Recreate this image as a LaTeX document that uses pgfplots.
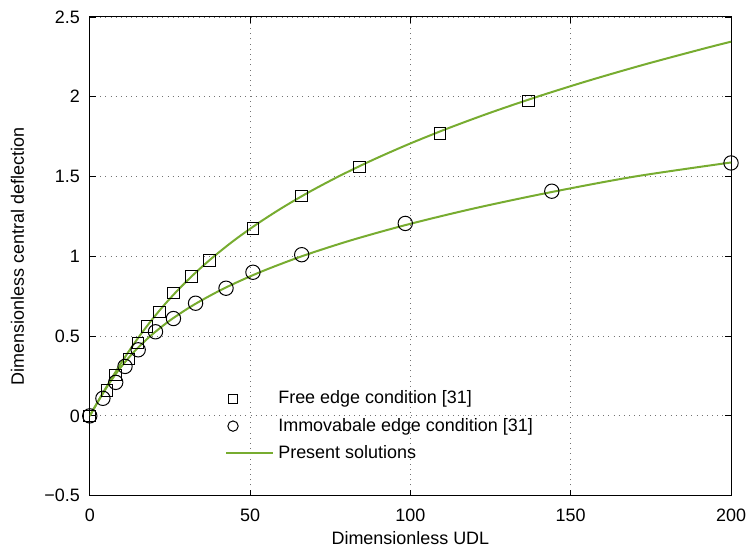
\documentclass[border=0pt]{standalone}
\usepackage{fontspec}
\setmainfont{Liberation Sans}
\usepackage{pgfplots}
\pgfplotsset{compat=1.18}
\definecolor{mgreen}{RGB}{119,172,48}
\pgfplotsset{
    sqleg/.style={legend image code/.code={\draw[##1, mark size=2.1pt] plot coordinates {(0.07cm,0cm)};}},
    ocleg/.style={legend image code/.code={\draw[##1, mark size=2.6pt] plot coordinates {(0.07cm,0cm)};}},
    lineleg/.style={legend image code/.code={\draw[##1] (-0.05cm,0cm) -- (0.78cm,0cm);}},
}

\begin{document}
\fontsize{9pt}{11pt}\selectfont
\begin{tikzpicture}
\begin{axis}[
    name=ax,
    scale only axis,
    width=321.5pt, height=240pt,
    xmin=0, xmax=200, ymin=-0.5, ymax=2.5,
    xtick={0,50,100,150,200},
    ytick={-0.5,0,0.5,1,1.5,2,2.5},
    yticklabels={−0.5,0,0.5,1,1.5,2,2.5},
    /pgf/number format/assume math mode=true,
    tick label style={font=\fontsize{9pt}{11pt}\selectfont},
    yticklabel style={xshift=-1.8pt},
    xticklabel style={yshift=-3.5pt},
    label style={font=\fontsize{9pt}{11pt}\selectfont},
    xlabel={Dimensionless UDL},
    ylabel={Dimensionless central deflection},
    xlabel style={yshift=1.5pt},
    ylabel style={yshift=4pt},
    tick align=inside,
    major tick length=3pt,
    tick style={black, line width=0.4pt},
    axis line style={line width=0.5pt},
    grid=major,
    major grid style={black!55, line width=0.4pt, dash pattern=on 0.4pt off 2.2pt},
    legend style={draw=none, fill=none, font=\fontsize{9pt}{11pt}\selectfont,
        at={(rel axis cs:0.2075,0.232)}, anchor=north west,
        row sep=1.8pt, inner sep=1pt},
    legend cell align=left,
]
\addplot[only marks, mark=square, mark size=2.9pt, mark options={black, line width=0.5pt}, sqleg]
coordinates {
(0,0) (5.4,0.158) (8.1,0.256) (12.2,0.356) (15.1,0.456) (17.8,0.56)
(21.8,0.652) (26.1,0.769) (31.7,0.873) (37.3,0.975) (50.9,1.173)
(66.1,1.377) (84.2,1.56) (109.2,1.77) (136.9,1.973)
};
\addlegendentry{Free edge condition [31]}
\addplot[only marks, mark=o, mark size=3.6pt, mark options={black, line width=0.5pt}, ocleg]
coordinates {
(0,0) (4.1,0.11) (8.1,0.21) (11.0,0.31) (15.1,0.414) (20.5,0.527)
(26.1,0.61) (33.0,0.706) (42.5,0.80) (50.9,0.90) (66.1,1.01)
(98.4,1.206) (144.1,1.408) (200,1.585)
};
\addlegendentry{Immovabale edge condition [31]}
\addplot[mgreen, line width=1pt, smooth, no marks, lineleg]
coordinates {
(0,0) (2.85,0.1) (5.77,0.2) (8.81,0.3) (12.03,0.4) (15.51,0.5)
(19.29,0.6) (23.45,0.7) (28.04,0.8) (33.13,0.9) (38.77,1.0)
(45.03,1.1) (51.99,1.2) (59.68,1.3) (68.17,1.4) (77.55,1.5)
(87.84,1.6) (99.13,1.7) (111.47,1.8) (124.94,1.9) (139.58,2.0)
(155.46,2.1) (172.65,2.2) (191.2,2.3) (200,2.345)
};
\addlegendentry{Present solutions}
\addplot[mgreen, line width=1pt, smooth, no marks, forget plot]
coordinates {
(0,0) (2.87,0.1) (5.96,0.2) (9.51,0.3) (13.74,0.4) (18.88,0.5)
(25.14,0.6) (32.78,0.7) (41.99,0.8) (53.03,0.9) (66.1,1.0)
(81.44,1.1) (99.28,1.2) (119.84,1.3) (143.35,1.4) (170.03,1.5)
(200,1.588)
};
\end{axis}
% margins round the axis as in the reference
\path ([xshift=-45pt,yshift=-28.5pt]ax.south west) ([xshift=9.5pt,yshift=8.5pt]ax.north east);
\end{tikzpicture}
\end{document}
